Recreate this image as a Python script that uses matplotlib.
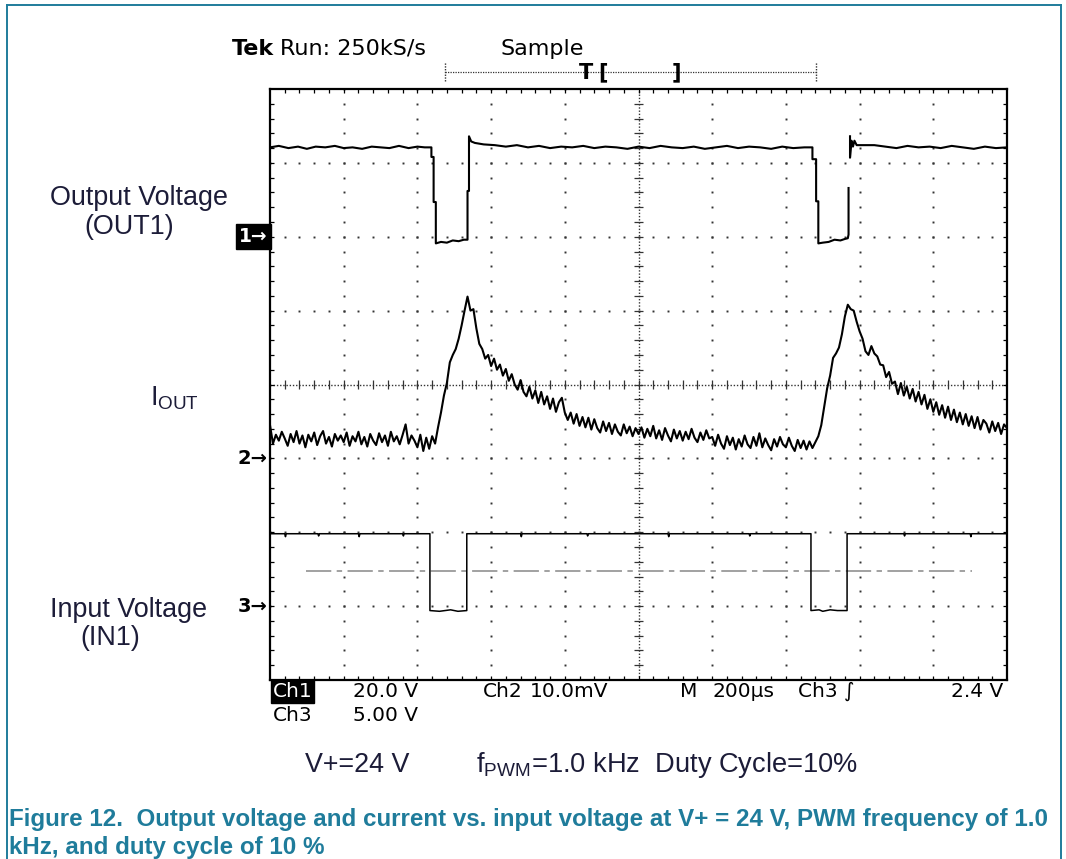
import numpy as np
import matplotlib.pyplot as plt
from matplotlib import font_manager
from matplotlib.lines import Line2D

nan = np.nan

# Ch1 - output voltage (divisions, ground at 6.0)
ch1_t = [0.00, 0.12, 0.25, 0.38, 0.50, 0.62, 0.75, 0.88, 1.00, 1.12, 1.25, 1.38, 1.50, 1.62, 1.75, 1.88, 2.00, 2.10, 2.19,
         2.19, 2.22, 2.22, 2.25, 2.25, 2.32, 2.40, 2.48, 2.56, 2.63, 2.68,
         2.68, 2.70, 2.70, 2.73, 2.78, 2.90, 3.05,
         3.20, 3.35, 3.50, 3.65, 3.80, 3.95, 4.10, 4.25, 4.40, 4.55, 4.70, 4.85, 5.00, 5.15,
         5.30, 5.45, 5.60, 5.75, 5.90, 6.05, 6.20, 6.35, 6.50, 6.65, 6.80, 6.95, 7.10, 7.25, 7.36,
         7.36, 7.41, 7.41, 7.44, 7.44, 7.50, 7.58, 7.66, 7.74, 7.80, 7.84, 7.85, 7.85, nan,
         7.87, 7.87, 7.89, 7.91, 7.93, 7.96, 8.05, 8.20, 8.35, 8.50, 8.65, 8.80, 8.95, 9.10, 9.25,
         9.40, 9.55, 9.70, 9.85, 10.0]
ch1_v = [7.21, 7.23, 7.20, 7.22, 7.19, 7.22, 7.21, 7.23, 7.20, 7.21, 7.19, 7.22, 7.21, 7.20, 7.23, 7.20, 7.22, 7.21, 7.21,
         7.08, 7.08, 6.47, 6.47, 5.91, 5.93, 5.92, 5.95, 5.94, 5.96, 5.96,
         6.62, 6.62, 7.36, 7.29, 7.27, 7.25, 7.24,
         7.22, 7.24, 7.21, 7.23, 7.20, 7.22, 7.21, 7.23, 7.20, 7.22, 7.21, 7.19, 7.22, 7.20,
         7.23, 7.21, 7.20, 7.22, 7.19, 7.21, 7.23, 7.20, 7.22, 7.21, 7.19, 7.22, 7.20, 7.21, 7.21,
         7.05, 7.05, 6.48, 6.48, 5.91, 5.92, 5.93, 5.96, 5.95, 5.97, 5.98, 6.03, 6.66, nan,
         7.36, 7.07, 7.30, 7.22, 7.30, 7.24, 7.24, 7.24, 7.22, 7.20, 7.23, 7.21, 7.22, 7.20, 7.23,
         7.21, 7.19, 7.22, 7.20, 7.21]

# Ch2 - output current, sampled every 0.04 div (ground at 3.0)
ch2_v = [3.45, 3.20, 3.32, 3.24, 3.36, 3.27, 3.17, 3.33, 3.22, 3.37, 3.20, 3.31, 3.15, 3.32, 3.23, 3.35, 3.18, 3.30, 3.37, 3.20, 3.29, 3.16, 3.33, 3.24, 3.31,
         3.22, 3.35, 3.17, 3.30, 3.23, 3.36, 3.19, 3.29, 3.16, 3.33, 3.24, 3.18, 3.34, 3.22, 3.31, 3.17, 3.36, 3.23, 3.30, 3.19, 3.32, 3.46, 3.20, 3.31, 3.24,
         3.15, 3.32, 3.10, 3.28, 3.13, 3.30, 3.20, 3.42, 3.62, 3.85, 4.02, 4.30, 4.40, 4.48, 4.62, 4.80, 5.00, 5.19, 5.00, 5.02, 4.76, 4.55, 4.48, 4.35, 4.40,
         4.25, 4.35, 4.20, 4.27, 4.12, 4.21, 4.05, 4.14, 4.00, 3.93, 4.06, 3.90, 3.84, 3.97, 3.81, 3.92, 3.75, 3.90, 3.73, 3.84, 3.67, 3.81, 3.63, 3.76, 3.82,
         3.62, 3.52, 3.62, 3.47, 3.60, 3.44, 3.56, 3.42, 3.55, 3.39, 3.53, 3.41, 3.35, 3.50, 3.37, 3.48, 3.33, 3.46, 3.36, 3.31, 3.46, 3.34, 3.43, 3.30, 3.41,
         3.33, 3.42, 3.28, 3.40, 3.30, 3.44, 3.27, 3.38, 3.25, 3.41, 3.31, 3.23, 3.39, 3.27, 3.37, 3.24, 3.36, 3.26, 3.40, 3.28, 3.22, 3.35, 3.25, 3.38, 3.27,
         3.29, 3.17, 3.32, 3.20, 3.13, 3.30, 3.18, 3.28, 3.12, 3.26, 3.16, 3.31, 3.19, 3.14, 3.29, 3.17, 3.34, 3.15, 3.27, 3.18, 3.11, 3.26, 3.16, 3.29, 3.19,
         3.15, 3.28, 3.17, 3.10, 3.25, 3.14, 3.24, 3.12, 3.23, 3.14, 3.22, 3.30, 3.45, 3.70, 3.95, 4.12, 4.36, 4.42, 4.50, 4.68, 4.92, 5.08, 5.02, 5.00, 4.85,
         4.72, 4.62, 4.45, 4.40, 4.52, 4.42, 4.38, 4.27, 4.26, 4.10, 4.17, 4.01, 4.04, 3.87, 4.02, 3.85, 3.97, 3.81, 3.94, 3.77, 3.90, 3.73, 3.86, 3.67, 3.80,
         3.63, 3.76, 3.59, 3.72, 3.55, 3.70, 3.52, 3.66, 3.49, 3.62, 3.46, 3.60, 3.44, 3.57, 3.41, 3.56, 3.39, 3.52, 3.47, 3.35, 3.50, 3.37, 3.48, 3.33, 3.46, 3.41]
ch2_t = np.arange(len(ch2_v)) * 0.04

# Ch3 - input voltage (ground at 1.0)
ch3_t = [0.00, 0.20, 0.21, 0.22, 0.45, 0.65, 0.66, 0.67, 0.95, 1.20, 1.21, 1.22, 1.50, 1.80, 1.81, 1.82, 2.05, 2.17,
         2.17, 2.30, 2.45, 2.55, 2.67,
         2.67, 2.90, 3.40, 3.41, 3.42, 3.80, 4.30, 4.31, 4.32, 4.90, 5.40, 5.41, 5.42, 6.00, 6.50, 6.51, 6.52, 7.10, 7.34,
         7.34, 7.45, 7.50, 7.60, 7.70, 7.83,
         7.83, 8.20, 8.60, 8.61, 8.62, 9.10, 9.50, 9.51, 9.52, 10.0]
ch3_v = [1.98, 1.98, 1.94, 1.98, 1.98, 1.98, 1.95, 1.98, 1.98, 1.98, 1.94, 1.98, 1.98, 1.98, 1.95, 1.98, 1.98, 1.98,
         0.94, 0.93, 0.95, 0.93, 0.94,
         1.98, 1.98, 1.98, 1.94, 1.98, 1.98, 1.98, 1.95, 1.98, 1.98, 1.98, 1.94, 1.98, 1.98, 1.98, 1.95, 1.98, 1.98, 1.98,
         0.94, 0.95, 0.93, 0.95, 0.94, 0.94,
         1.98, 1.98, 1.98, 1.95, 1.98, 1.98, 1.98, 1.94, 1.98, 1.98]

trig_level = 1.48
ch_grounds = [6.0, 3.0, 1.0]

W, H = 1066, 859
TEAL = '#1f7c9b'
LABEL = '#1c1c38'


def fx(x):
    return x / W


def fy(y):
    return 1 - y / H


def has_font(name):
    try:
        font_manager.findfont(name, fallback_to_default=False)
        return True
    except ValueError:
        return False


sans = 'Liberation Sans' if has_font('Liberation Sans') else 'DejaVu Sans'
plt.rcParams['mathtext.fontset'] = 'custom'
plt.rcParams['mathtext.rm'] = sans

fig = plt.figure(figsize=(W / 100, H / 100), dpi=100)

# page frame
fig.add_artist(Line2D([fx(7), fx(7)], [0, fy(5)], color=TEAL, lw=1.4))
fig.add_artist(Line2D([fx(7), fx(1061)], [fy(5), fy(5)], color=TEAL, lw=1.4))
fig.add_artist(Line2D([fx(1061), fx(1061)], [0, fy(5)], color=TEAL, lw=1.4))

ax = fig.add_axes([fx(270), fy(680), (1007 - 270) / W, (680 - 89) / H])
ax.set_xlim(0, 10)
ax.set_ylim(0, 8)
ax.set_xticks([])
ax.set_yticks([])
for s in ax.spines.values():
    s.set_linewidth(1.6)

# graticule
ys = np.arange(41) * 0.2
xs = np.arange(51) * 0.2
for gx in [1, 2, 3, 4, 6, 7, 8, 9]:
    ax.plot(np.full(len(ys), gx), ys, ls='none', marker='s', ms=1.4, mew=0, color='#333')
for gy in [1, 2, 3, 5, 6, 7]:
    ax.plot(xs, np.full(len(xs), gy), ls='none', marker='s', ms=1.4, mew=0, color='#333')
ax.plot([5, 5], [0, 8], ls=(0, (1, 1.3)), lw=1.0, color='#333')
ax.plot([0, 10], [4, 4], ls=(0, (1, 1.3)), lw=1.0, color='#333')
ax.hlines(ys[1:-1], 4.94, 5.06, lw=0.9, color='#333')
ax.vlines(xs[1:-1], 3.94, 4.06, lw=0.9, color='#333')
ax.vlines(xs[1:-1], 0, 0.06, lw=0.9, color='black')
ax.vlines(xs[1:-1], 7.94, 8, lw=0.9, color='black')
ax.hlines(ys[1:-1], 0, 0.05, lw=0.9, color='black')
ax.hlines(ys[1:-1], 9.95, 10, lw=0.9, color='black')

# trigger level line
ax.plot([0.49, 9.52], [trig_level, trig_level], color='#9a9a9a', lw=1.3,
        dashes=(14, 3, 3, 3))

# traces
ax.plot(ch1_t, ch1_v, color='black', lw=1.5)
ax.plot(ch2_t, ch2_v, color='black', lw=1.5)
ax.plot(ch3_t, ch3_v, color='black', lw=1.1)

# trigger position bar above graticule
ax.plot([2.37, 7.41], [8.23, 8.23], ls=(0, (1, 1)), lw=0.9, color='#333', clip_on=False)
for bx in [2.37, 7.41]:
    ax.plot([bx, bx], [8.11, 8.36], ls=(0, (1, 1)), lw=1.0, color='#333', clip_on=False)
ax.text(4.29, 8.22, 'T', ha='center', va='center', fontsize=15, fontweight='bold', clip_on=False)
ax.text(4.52, 8.23, '[', ha='center', va='center', fontsize=15, fontweight='bold', clip_on=False)
ax.text(5.52, 8.23, ']', ha='center', va='center', fontsize=15, fontweight='bold', clip_on=False)

# channel markers
ax.text(-0.03, ch_grounds[0], '1\u2192', ha='right', va='center', fontsize=13.5, fontweight='bold',
        color='white', clip_on=False,
        bbox=dict(boxstyle='square,pad=0.15', fc='black', ec='black'))
ax.text(-0.03, ch_grounds[1], '2\u2192', ha='right', va='center', fontsize=14, fontweight='bold',
        clip_on=False)
ax.text(-0.03, ch_grounds[2], '3\u2192', ha='right', va='center', fontsize=14, fontweight='bold',
        clip_on=False)

# scope header / footer text
fig.text(fx(232), fy(55), 'Tek', fontsize=16, fontweight='bold', va='baseline')
fig.text(fx(280), fy(55), 'Run: 250kS/s', fontsize=16, va='baseline')
fig.text(fx(500), fy(55), 'Sample', fontsize=16, va='baseline')

foot = dict(fontsize=14.5, va='baseline')
fig.text(fx(273), fy(697), 'Ch1', color='white',
         bbox=dict(boxstyle='square,pad=0.08', fc='black', ec='black'), **foot)
fig.text(fx(353), fy(697), '20.0 V', **foot)
fig.text(fx(483), fy(697), 'Ch2', **foot)
fig.text(fx(530), fy(697), '10.0mV', **foot)
fig.text(fx(680), fy(697), 'M', **foot)
fig.text(fx(713), fy(697), '200\u00b5s', **foot)
fig.text(fx(798), fy(697), 'Ch3 \u222b', **foot)
fig.text(fx(1003), fy(697), '2.4 V', ha='right', **foot)
fig.text(fx(273), fy(721), 'Ch3', **foot)
fig.text(fx(353), fy(721), '5.00 V', **foot)

# trace labels
lab = dict(fontsize=19.4, color=LABEL, family=sans, va='baseline')
fig.text(fx(50), fy(205), 'Output Voltage', **lab)
fig.text(fx(84), fy(234), '(OUT1)', **lab)
fig.text(fx(150), fy(405), r'$\mathregular{I_{OUT}}$', **lab)
fig.text(fx(50), fy(617), 'Input Voltage', **lab)
fig.text(fx(80), fy(645), '(IN1)', **lab)

fig.text(fx(305), fy(772), 'V+=24 V', fontsize=19.4, color=LABEL, family=sans, va='baseline')
fig.text(fx(476), fy(772), r'f$\mathregular{_{PWM}}$=1.0 kHz  Duty Cycle=10%', fontsize=19.6,
         color=LABEL, family=sans, va='baseline')

# caption
cap = dict(fontsize=17.4, color=TEAL, family=sans, fontweight='bold', va='baseline')
fig.text(fx(9), fy(826), 'Figure 12.  Output voltage and current vs. input voltage at V+ = 24 V, '
         'PWM frequency of 1.0', **cap)
fig.text(fx(9), fy(854), 'kHz, and duty cycle of 10 %', **cap)

fig.savefig('out.png', dpi=100)
